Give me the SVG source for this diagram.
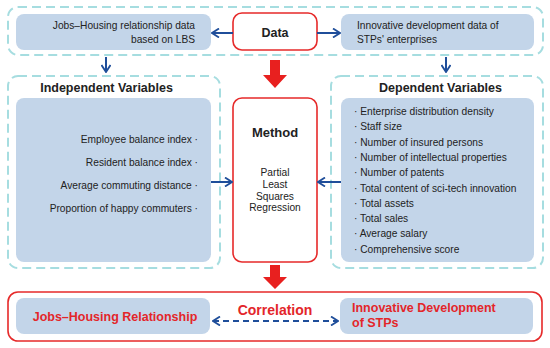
<svg xmlns="http://www.w3.org/2000/svg" width="550" height="348" viewBox="0 0 550 348">
<defs>
<style>
text{font-family:"Liberation Sans",Arial,sans-serif;fill:#222}
.dash{fill:#fff;stroke:#a6dde0;stroke-width:2;stroke-dasharray:9,5}
.blue{fill:#c3d5e9;stroke:none}
.red{fill:#fff;stroke:#e62a2a;stroke-width:1.6}
.body{font-size:10.2px}
.title{font-size:12.5px;font-weight:bold}
.rt{font-size:12.5px;font-weight:bold;fill:#e3262a}
.conn{stroke:#1f4e9a;stroke-width:2;fill:none}
.bigarrow{fill:#e8201f}
</style>
<marker id="ah" viewBox="0 0 10 10" refX="9" refY="5" markerWidth="10" markerHeight="10" markerUnits="userSpaceOnUse" orient="auto-start-reverse">
<polyline points="2,0.5 9,5 2,9.5" fill="none" stroke="#1f4e9a" stroke-width="1.8"/>
</marker>
</defs>
<rect width="550" height="348" fill="#fff"/>

<g id="data-container">
<rect class="dash" x="8" y="7" width="535" height="48" rx="10"/>
</g>
<g id="lbs-data">
<rect class="blue" x="16" y="14" width="195" height="36" rx="8"/>
<text class="body" x="195" y="29" text-anchor="end">Jobs–Housing relationship data</text>
<text class="body" x="195" y="43" text-anchor="end">based on LBS</text>
</g>
<g id="data">
<rect class="red" x="233" y="13" width="84" height="37" rx="9"/>
<text x="275" y="36.5" text-anchor="middle" style="font-size:12.5px;font-weight:bold">Data</text>
</g>
<g id="stp-data">
<rect class="blue" x="341" y="14" width="193" height="36" rx="8"/>
<text class="body" x="357" y="29">Innovative development data of</text>
<text class="body" x="357" y="43">STPs' enterprises</text>
</g>

<g id="independent-variables">
<rect class="dash" x="8" y="76" width="212" height="192" rx="10"/>
<text class="title" x="106.5" y="92" text-anchor="middle">Independent Variables</text>
<rect class="blue" x="16" y="98" width="195" height="164" rx="8"/>
<text class="body" x="198" y="143" text-anchor="end">Employee balance index ·</text>
<text class="body" x="198" y="166" text-anchor="end">Resident balance index ·</text>
<text class="body" x="198" y="189" text-anchor="end">Average commuting distance ·</text>
<text class="body" x="198" y="212" text-anchor="end">Proportion of happy commuters ·</text>
</g>

<g id="method">
<rect class="red" x="233" y="98" width="84" height="164" rx="9"/>
<text x="275" y="137" text-anchor="middle" style="font-size:13px;font-weight:bold">Method</text>
<text class="body" x="275" y="176" text-anchor="middle">Partial</text>
<text class="body" x="275" y="188" text-anchor="middle">Least</text>
<text class="body" x="275" y="199.5" text-anchor="middle">Squares</text>
<text class="body" x="275" y="211" text-anchor="middle">Regression</text>
</g>

<g id="dependent-variables">
<rect class="dash" x="331" y="76" width="212" height="192" rx="10"/>
<text class="title" x="440.5" y="92" text-anchor="middle">Dependent Variables</text>
<rect class="blue" x="341" y="98" width="193" height="164" rx="8"/>
<text class="body" x="354" y="115">· Enterprise distribution density</text>
<text class="body" x="354" y="130.3">· Staff size</text>
<text class="body" x="354" y="145.6">· Number of insured persons</text>
<text class="body" x="354" y="160.9">· Number of intellectual properties</text>
<text class="body" x="354" y="176.2">· Number of patents</text>
<text class="body" x="354" y="191.5">· Total content of sci-tech innovation</text>
<text class="body" x="354" y="206.8">· Total assets</text>
<text class="body" x="354" y="222.1">· Total sales</text>
<text class="body" x="354" y="237.4">· Average salary</text>
<text class="body" x="354" y="252.7">· Comprehensive score</text>
</g>

<g id="correlation">
<rect class="red" x="8" y="292" width="534" height="49" rx="10"/>
<text x="275" y="315" text-anchor="middle" style="font-size:14px;font-weight:bold;fill:#e3262a">Correlation</text>
</g>
<g id="jobs-housing-relationship">
<rect class="blue" x="16" y="298" width="194" height="36" rx="8"/>
<text class="rt" x="115" y="321" text-anchor="middle">Jobs–Housing Relationship</text>
</g>
<g id="innovative-development">
<rect class="blue" x="340" y="298" width="193" height="36" rx="8"/>
<text class="rt" x="352" y="312">Innovative Development</text>
<text class="rt" x="352" y="327">of STPs</text>
</g>

<g id="connectors">
<line class="conn" x1="233" y1="33" x2="212" y2="33" marker-end="url(#ah)"/>
<line class="conn" x1="317" y1="33" x2="340" y2="33" marker-end="url(#ah)"/>
<line class="conn" x1="106" y1="57" x2="106" y2="72" marker-end="url(#ah)"/>
<line class="conn" x1="446" y1="57" x2="446" y2="72" marker-end="url(#ah)"/>
<line class="conn" x1="211" y1="182" x2="232" y2="182" marker-end="url(#ah)"/>
<line class="conn" x1="341" y1="182" x2="318" y2="182" marker-end="url(#ah)"/>
<line class="conn" x1="213" y1="321" x2="338" y2="321" stroke-dasharray="6,4" marker-start="url(#ah)" marker-end="url(#ah)"/>
<polygon class="bigarrow" points="270,60 280,60 280,75 287,75 275,88 263,75 270,75"/>
<polygon class="bigarrow" points="270,265 280,265 280,277 287,277 275,289 263,277 270,277"/>
</g>
</svg>
